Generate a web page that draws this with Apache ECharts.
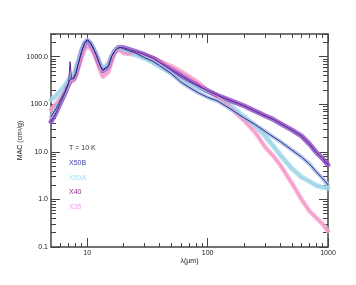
<!DOCTYPE html>
<html>
<head>
<meta charset="utf-8">
<script src="https://cdn.jsdelivr.net/npm/echarts@6/dist/echarts.min.js"></script>
<style>html,body{margin:0;padding:0;background:#fff}#c{width:356px;height:285px}</style>
</head>
<body>
<div id="c"></div>
<script>
// wavelength (micron)
const lam = [5, 5.5, 6, 6.5, 7, 7.2, 7.4, 7.7, 8, 8.5, 9, 9.5, 10, 10.5, 11, 11.5, 12, 12.5, 13, 13.5, 14, 15, 16, 17, 18, 19, 20, 22, 25, 30, 35, 40, 50, 60, 70, 85, 100, 120, 150, 200, 250, 300, 350, 400, 500, 600, 700, 800, 900, 1000];
const X50B = [54.6, 80, 124, 183, 284, 328, 361, 361, 439, 785, 1337, 1972, 2280, 2070, 1705, 1337, 1050, 785, 616, 532, 532, 650, 1050, 1337, 1510, 1550, 1475, 1337, 1210, 950, 804, 647, 439, 293, 228, 171, 140, 118.5, 84, 52, 37, 27, 20.7, 16.6, 11, 7.85, 5.59, 3.79, 2.77, 2.02];
const X50A = [124, 151, 192, 245, 328, 361, 398, 418, 532, 865, 1400, 1880, 2170, 1972, 1620, 1275, 1000, 785, 647, 587, 587, 690, 1050, 1275, 1400, 1400, 1337, 1180, 1100, 925, 762, 625, 450, 344, 277, 217, 183, 151, 100, 54.6, 34.4, 21.7, 13.4, 8.65, 4.5, 2.98, 2.39, 1.97, 1.79, 1.71];
const X40 = [42.8, 66.2, 108, 166, 270, 785, 344, 344, 418, 748, 1275, 1880, 2170, 1972, 1620, 1275, 1000, 748, 587, 507, 507, 620, 1000, 1337, 1550, 1585, 1550, 1438, 1294, 1100, 939, 766, 527, 402, 315, 239, 192, 155, 124, 93, 71.2, 57.3, 48.3, 39.8, 29, 21.7, 14.7, 9.76, 7.3, 5.32];
const X35 = [76.6, 102, 137, 183, 258, 284, 312, 312, 380, 616, 1000, 1400, 1625, 1550, 1337, 1100, 824, 616, 460, 380, 380, 480, 824, 1210, 1400, 1337, 1185, 1157, 1233, 1100, 929, 804, 631, 488, 387, 277, 192, 148, 90.8, 46, 25.1, 12.7, 8.24, 5.32, 2.22, 1.02, 0.57, 0.41, 0.305, 0.217];
// narrow feature at 7.2 micron seen only in the thin X40 line
const spikeLam = [7.2];

const seriesNames = ['X50B', 'X50A', 'X40', 'X35'];
const legendTitle = 'T = 10 K';

const xMajor = [10, 100, 1000];
const xMajorLabels = ['10', '100', '1000'];
const xMinor = [6, 7, 8, 9, 20, 30, 40, 50, 60, 70, 80, 90, 200, 300, 400, 500, 600, 700, 800, 900];
const yMajor = [0.1, 1, 10, 100, 1000];
const yMajorLabels = ['0.1', '1.0', '10.0', '100.0', '1000.0'];
const yMinor = [0.2, 0.3, 0.4, 0.5, 0.6, 0.7, 0.8, 0.9, 2, 3, 4, 5, 6, 7, 8, 9, 20, 30, 40, 50, 60, 70, 80, 90, 200, 300, 400, 500, 600, 700, 800, 900, 2000, 3000];

const FONT = 'Liberation Sans, Arial, Helvetica, sans-serif';
const AX = '#444';

function findLabel(v, ticks, labels) {
  for (let i = 0; i < ticks.length; i++) {
    if (Math.abs(Math.log10(ticks[i]) - Math.log10(v)) < 0.01) return labels[i];
  }
  return '';
}

function mkAxis(kind, position, ticks, len, withLabel, withLine) {
  const isX = kind === 'x';
  return {
    type: 'log', logBase: 10,
    min: isX ? 5 : 0.1, max: isX ? 1000 : 3000,
    position: position,
    splitLine: { show: false },
    axisLine: { show: withLine, onZero: false, lineStyle: { color: AX, width: 1.5 } },
    axisTick: { show: true, inside: true, length: len, customValues: ticks, lineStyle: { color: AX, width: 1 } },
    axisLabel: withLabel ? {
      show: true, customValues: ticks, fontSize: 7, fontFamily: FONT, color: '#222', margin: 3,
      formatter: v => isX ? findLabel(v, xMajor, xMajorLabels) : findLabel(v, yMajor, yMajorLabels)
    } : { show: false }
  };
}

const xAxes = [
  Object.assign(mkAxis('x', 'bottom', xMajor, 9, true, true), { name: 'λ(μm)', nameLocation: 'middle', nameGap: 11, nameMoveOverlap: false, nameTextStyle: { fontSize: 7, fontFamily: FONT, color: '#222' } }),
  mkAxis('x', 'bottom', xMinor, 4, false, false),
  mkAxis('x', 'top', xMajor, 9, false, true),
  mkAxis('x', 'top', xMinor, 4, false, false)
];
const yAxes = [
  Object.assign(mkAxis('y', 'left', yMajor, 9, true, true), { name: 'MAC (cm²/g)', nameLocation: 'middle', nameGap: 27, nameMoveOverlap: false, nameRotate: 90, nameTextStyle: { fontSize: 7, fontFamily: FONT, color: '#222' } }),
  mkAxis('y', 'left', yMinor, 5, false, false),
  mkAxis('y', 'right', yMajor, 9, false, true),
  mkAxis('y', 'right', yMinor, 5, false, false)
];

const styles = {
  X50A: { band: '#a5d8ea', line: '#93cfe5', bw: 5 },
  X35: { band: '#f8a6d0', line: '#f386c2', bw: 4.5 },
  X40: { band: '#9055c6', line: '#5e2090', bw: 5 },
  X50B: { band: '#aac0e6', line: '#2b2d8c', bw: 4 }
};
const dataMap = { X50B, X50A, X40, X35 };
const drawOrder = ['X50A', 'X35', 'X40', 'X50B'];

const series = [];
drawOrder.forEach(name => {
  const d = lam.map((l, i) => [l, dataMap[name][i]]);
  const bandData = name === 'X40' ? d.filter(p => spikeLam.indexOf(p[0]) < 0) : d;
  const s = styles[name];
  series.push({ type: 'line', name: name + ' band', data: bandData, symbol: 'none', silent: true, lineStyle: { width: s.bw, color: s.band, opacity: 0.85, join: 'round', cap: 'round' }, z: 2 });
  series.push({ type: 'line', name: name, data: d, symbol: 'none', silent: true, lineStyle: { width: 1, color: s.line, join: 'round' }, z: 3 });
});

const textColors = { X50B: '#3c3ea0', X50A: '#a6dcef', X40: '#8a2b8e', X35: '#f0a2ee' };
const graphics = [{ type: 'text', left: 69, top: 145, style: { text: legendTitle, fontSize: 7, fontFamily: FONT, fill: '#333' } }];
seriesNames.forEach((n, i) => {
  graphics.push({ type: 'text', left: 69, top: 160 + i * 14.5, style: { text: n, fontSize: 7, fontFamily: FONT, fill: textColors[n] } });
});

const chart = echarts.init(document.getElementById('c'), null, { renderer: 'canvas' });
chart.setOption({
  animation: false,
  backgroundColor: '#fff',
  grid: { left: 51, right: 28, top: 34, bottom: 38, containLabel: false },
  xAxis: xAxes,
  yAxis: yAxes,
  series: series,
  graphic: graphics
});
</script>
</body>
</html>
